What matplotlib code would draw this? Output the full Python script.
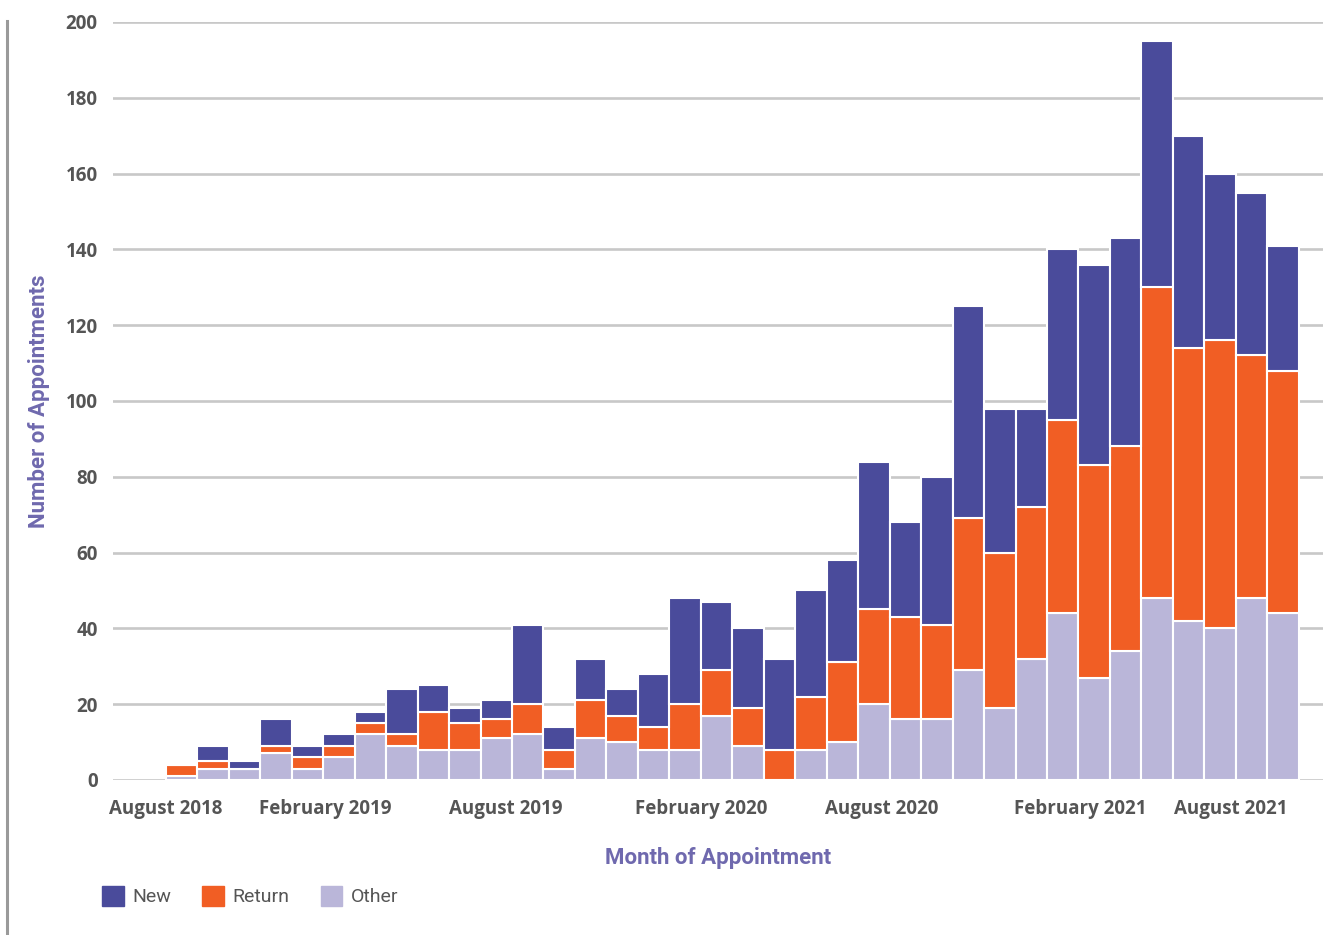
import matplotlib.pyplot as plt
from matplotlib.patches import Patch
from matplotlib.lines import Line2D
import numpy as np

# monthly appointment counts, Aug 2018 onwards
other = [1, 3, 3, 7, 3, 6, 12, 9, 8, 8, 11, 12, 3, 11, 10, 8, 8, 17, 9, 0,
         8, 10, 20, 16, 16, 29, 19, 32, 44, 27, 34, 48, 42, 40, 48, 44]
ret = [3, 2, 0, 2, 3, 3, 3, 3, 10, 7, 5, 8, 5, 10, 7, 6, 12, 12, 10, 8,
       14, 21, 25, 27, 25, 40, 41, 40, 51, 56, 54, 82, 72, 76, 64, 64]
new = [0, 4, 2, 7, 3, 3, 3, 12, 7, 4, 5, 21, 6, 11, 7, 14, 28, 18, 21, 24,
       28, 27, 39, 25, 39, 56, 38, 26, 45, 53, 55, 65, 56, 44, 43, 33]

tick_labels = ["August 2018", "February 2019", "August 2019", "February 2020",
               "August 2020", "February 2021", "August 2021"]
tick_pos = [-0.5, 4.55, 10.3, 16.5, 22.25, 28.55, 33.35]

c_new = "#4a4b9b"
c_ret = "#f15e24"
c_oth = "#bab6d9"
purple = "#6f69ae"
grey_txt = "#555555"

plt.rcParams['font.family'] = ['Open Sans', 'DejaVu Sans']

fig = plt.figure(figsize=(13.23, 9.35), dpi=100)
ax = fig.add_axes([0.0854, 0.1658, 0.9146, 0.8107])

x = np.arange(len(new))
other_a = np.array(other)
ret_a = np.array(ret)
new_a = np.array(new)

kw = dict(width=1.0, edgecolor="white", linewidth=1.5, zorder=3)
ax.bar(x, other_a, color=c_oth, **kw)
ax.bar(x, ret_a, bottom=other_a, color=c_ret, **kw)
ax.bar(x, new_a, bottom=other_a + ret_a, color=c_new, **kw)

ax.set_xlim(-2.18, 36.27)
ax.set_ylim(0, 200)
ax.set_yticks(range(0, 201, 20))
ax.yaxis.grid(True, color="#c8c8c8", linewidth=1.9, zorder=0)
ax.set_axisbelow(True)
for s in ax.spines.values():
    s.set_visible(False)

ax.set_xticks(tick_pos)
ax.set_xticklabels(tick_labels)
ax.tick_params(axis="both", length=0, labelsize=13.5, labelcolor=grey_txt)
ax.tick_params(axis="y", pad=11)
ax.tick_params(axis="x", pad=14)
for lab in ax.get_xticklabels() + ax.get_yticklabels():
    lab.set_fontweight("bold")

ax.set_ylabel("Number of Appointments", color=purple, fontsize=16,
              fontweight=600, family=['Roboto', 'DejaVu Sans'])
ax.yaxis.set_label_coords(-0.052, 0.5)
ax.set_xlabel("Month of Appointment", color=purple, fontsize=16,
              fontweight=600, family=['Roboto', 'DejaVu Sans'], labelpad=20)

handles = [Patch(color=c_new, label="New"),
           Patch(color=c_ret, label="Return"),
           Patch(color=c_oth, label="Other")]
leg = fig.legend(handles=handles, loc="lower left", bbox_to_anchor=(0.064, 0.012),
                 ncol=3, frameon=False, handlelength=1.1, handleheight=1.2,
                 handletextpad=0.45, columnspacing=1.6,
                 prop={'family': ['Roboto', 'DejaVu Sans'], 'size': 14})
for t in leg.get_texts():
    t.set_color(grey_txt)

fig.add_artist(Line2D([0.0055, 0.0055], [0.0, 0.978], transform=fig.transFigure,
                      color="#9a9a9a", linewidth=2.2))

fig.savefig("out.png", dpi=100)
